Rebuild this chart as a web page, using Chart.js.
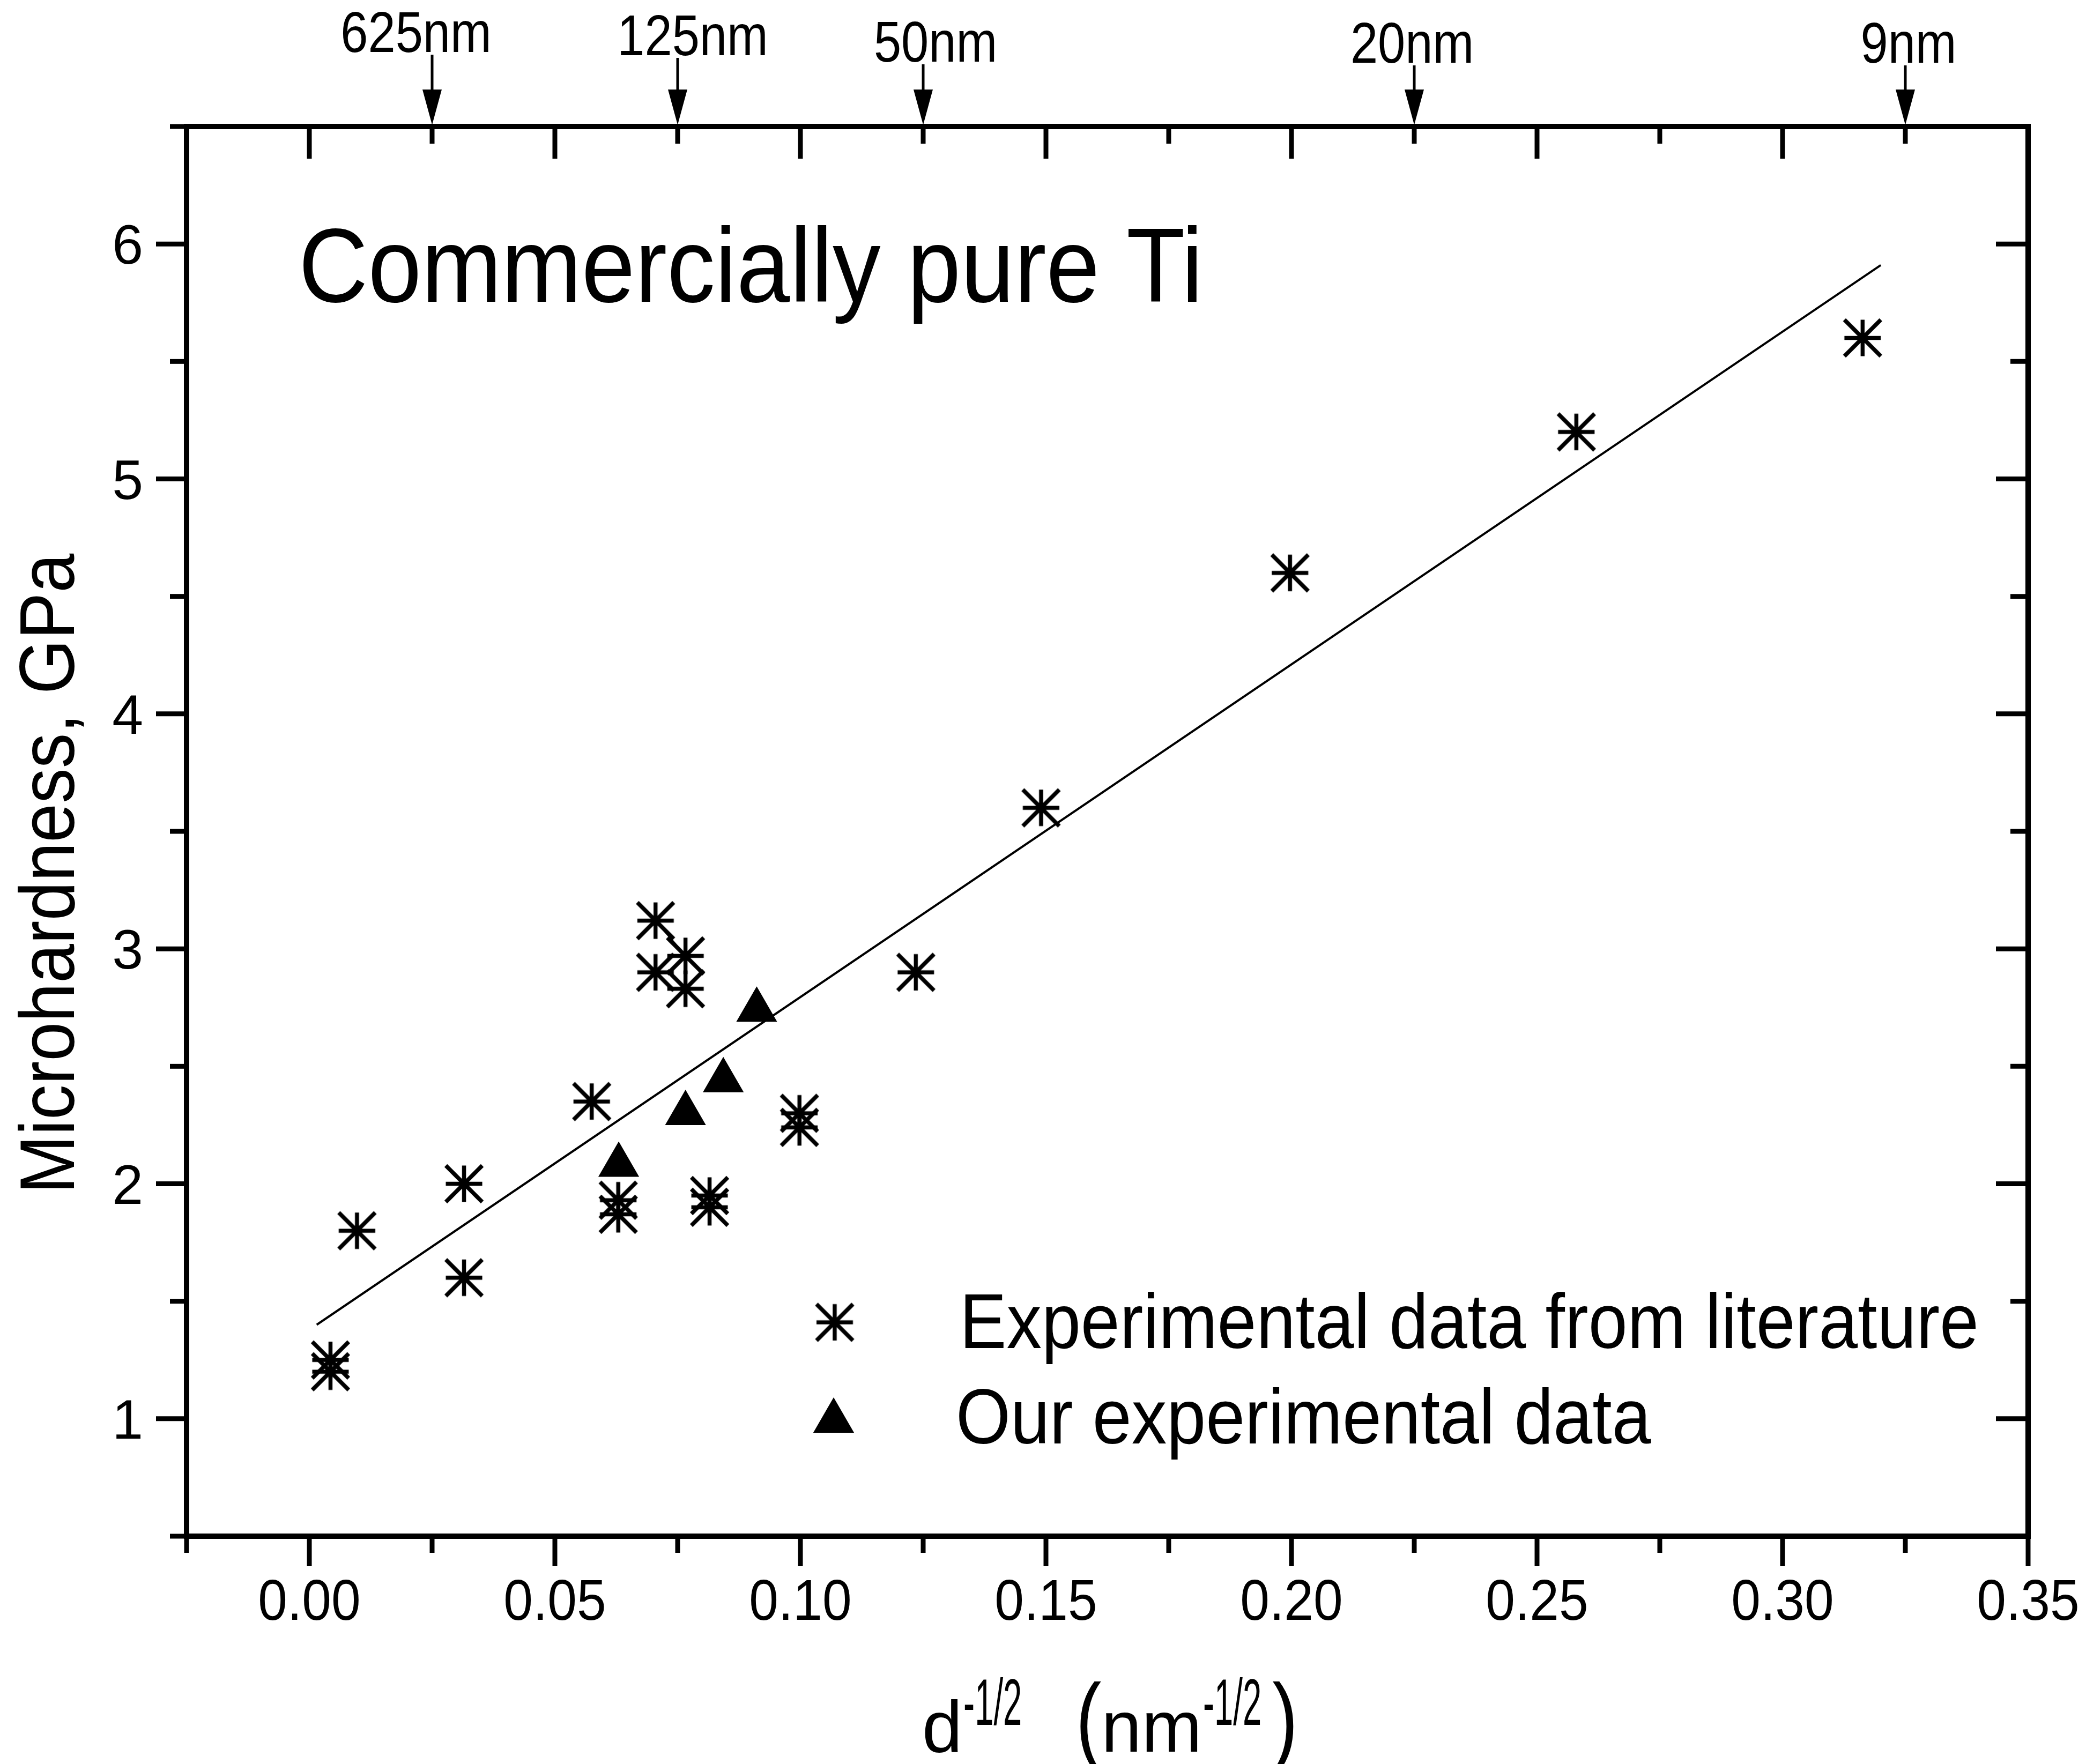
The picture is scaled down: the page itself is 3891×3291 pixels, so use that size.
<!DOCTYPE html>
<html>
<head>
<meta charset="utf-8">
<script src="https://cdn.jsdelivr.net/npm/chart.js"></script>
<style>
html,body{margin:0;padding:0;background:#fff;}
canvas{display:block;}
</style>
</head>
<body>
<canvas id="c" width="3891" height="3291" style="width:3891px;height:3291px"></canvas>
<script>
// ---------------- DATA ----------------
const chartTitle = 'Commercially pure Ti';
const yAxisTitle = 'Microhardness, GPa';
const seriesNames = ['Experimental data from literature', 'Our experimental data'];

// Experimental data from literature (asterisks)
const litX = [0.0043, 0.0043, 0.0097, 0.0315, 0.0315, 0.0575, 0.0629, 0.0629, 0.0705, 0.0705, 0.0766, 0.0766, 0.0815, 0.0815, 0.0998, 0.0998, 0.1235, 0.149, 0.1997, 0.258, 0.3163];
const litY = [1.25, 1.20, 1.80, 2.00, 1.60, 2.35, 1.93, 1.87, 3.12, 2.90, 2.97, 2.83, 1.95, 1.90, 2.30, 2.24, 2.90, 3.60, 4.60, 5.20, 5.60];
// thin connector drawn between two literature points in the original figure
const connectorIdx = [8, 10];

// Our experimental data (triangles)
const ourX = [0.0630, 0.0766, 0.0843, 0.0911];
const ourY = [2.08, 2.30, 2.44, 2.74];

// Linear fit line
const fitX = [0.0015, 0.32];
const fitY = [1.40, 5.91];

// Axis ticks
const xTickValues = [0.00, 0.05, 0.10, 0.15, 0.20, 0.25, 0.30, 0.35];
const xTickLabels = ['0.00', '0.05', '0.10', '0.15', '0.20', '0.25', '0.30', '0.35'];
const xMinorValues = [-0.025, 0.025, 0.075, 0.125, 0.175, 0.225, 0.275, 0.325];
const yTickValues = [1, 2, 3, 4, 5, 6];
const yTickLabels = ['1', '2', '3', '4', '5', '6'];
const yMinorValues = [0.5, 1.5, 2.5, 3.5, 4.5, 5.5, 6.5];

// Top grain-size arrows
const topArrowValues = [0.025, 0.075, 0.125, 0.225, 0.325];
const topArrowLabels = ['625nm', '125nm', '50nm', '20nm', '9nm'];

// ---------------- STYLE ----------------
const FONT = '"Liberation Sans", Arial, Helvetica, sans-serif';
const topLabelDx = [-30, 28, 23, -4, 6];
const topLabelBase = [97, 103, 115, 117, 117];

function makeAsterisk(half, lw) {
  const s = Math.ceil(2 * half + lw * 2 + 4);
  const cv = document.createElement('canvas');
  cv.width = s; cv.height = s;
  const g = cv.getContext('2d');
  const c = s / 2;
  g.strokeStyle = '#000';
  g.lineWidth = lw;
  g.lineCap = 'butt';
  g.beginPath();
  g.moveTo(c - half, c); g.lineTo(c + half, c);
  g.moveTo(c, c - half); g.lineTo(c, c + half);
  g.moveTo(c - half, c - half); g.lineTo(c + half, c + half);
  g.moveTo(c + half, c - half); g.lineTo(c - half, c + half);
  g.stroke();
  return cv;
}
const asterisk = makeAsterisk(34, 7.5);

function txt(ctx, s, x, y, size, sx, align, rot) {
  ctx.save();
  ctx.translate(x, y);
  if (rot) ctx.rotate(rot);
  ctx.scale(sx, 1);
  ctx.font = size + 'px ' + FONT;
  ctx.textAlign = align || 'left';
  ctx.textBaseline = 'alphabetic';
  ctx.fillStyle = '#000';
  ctx.fillText(s, 0, 0);
  ctx.restore();
}
function textW(ctx, s, size, sx) {
  ctx.save();
  ctx.font = size + 'px ' + FONT;
  const w = ctx.measureText(s).width * sx;
  ctx.restore();
  return w;
}

const framePlugin = {
  id: 'frame',
  afterDraw(chart) {
    const ctx = chart.ctx;
    const a = chart.chartArea;
    const xs = chart.scales.x, ys = chart.scales.y;
    ctx.save();
    ctx.strokeStyle = '#000';
    ctx.fillStyle = '#000';
    ctx.lineCap = 'butt';

    const line = (x0, y0, x1, y1) => { ctx.beginPath(); ctx.moveTo(x0, y0); ctx.lineTo(x1, y1); ctx.stroke(); };
    // ticks
    ctx.lineWidth = 9;
    xTickValues.forEach(v => {
      const p = xs.getPixelForValue(v);
      line(p, a.bottom, p, a.bottom + 56);
      line(p, a.top, p, a.top + 60);
    });
    xMinorValues.forEach(v => {
      const p = xs.getPixelForValue(v);
      line(p, a.bottom, p, a.bottom + 31);
      line(p, a.top, p, a.top + 32);
    });
    yTickValues.forEach(v => {
      const p = ys.getPixelForValue(v);
      line(a.left - 57, p, a.left, p);
      line(a.right - 60, p, a.right, p);
    });
    yMinorValues.forEach(v => {
      const p = ys.getPixelForValue(v);
      line(a.left - 31, p, a.left, p);
      line(a.right - 33, p, a.right, p);
    });
    // frame
    ctx.lineWidth = 10;
    ctx.lineJoin = 'miter';
    ctx.strokeRect(a.left, a.top, a.right - a.left, a.bottom - a.top);

    // tick labels
    xTickValues.forEach((v, i) => {
      txt(ctx, xTickLabels[i], xs.getPixelForValue(v), a.bottom + 156, 108, 0.91, 'center');
    });
    yTickValues.forEach((v, i) => {
      txt(ctx, yTickLabels[i], a.left - 81, ys.getPixelForValue(v) + 37, 104, 1.0, 'right');
    });

    // top arrows and labels
    topArrowValues.forEach((v, i) => {
      const p = xs.getPixelForValue(v);
      ctx.lineWidth = 5;
      line(p, topLabelBase[i] + 5, p, a.top - 60);
      ctx.beginPath();
      ctx.moveTo(p - 18, a.top - 69);
      ctx.lineTo(p + 18, a.top - 69);
      ctx.lineTo(p, a.top - 3);
      ctx.closePath();
      ctx.fill();
      txt(ctx, topArrowLabels[i], p + topLabelDx[i], topLabelBase[i], 107, 0.86, 'center');
    });

    // in-plot title
    txt(ctx, chartTitle, 557, 563, 197, 0.91, 'left');

    // legend
    ctx.drawImage(asterisk, 1557 - asterisk.width / 2, 2467 - asterisk.height / 2);
    txt(ctx, seriesNames[0], 1790, 2515, 144, 0.91, 'left');
    const tr = 44, tcx = 1555, tcy = 2651;
    ctx.beginPath();
    ctx.moveTo(tcx, tcy - tr);
    ctx.lineTo(tcx + tr * Math.sin(2 * Math.PI / 3), tcy + tr / 2);
    ctx.lineTo(tcx - tr * Math.sin(2 * Math.PI / 3), tcy + tr / 2);
    ctx.closePath();
    ctx.fill();
    txt(ctx, seriesNames[1], 1783, 2693, 144, 0.91, 'left');

    // y-axis title
    txt(ctx, yAxisTitle, 138, 1630, 144, 0.91, 'center', -Math.PI / 2);

    // x-axis title: d^-1/2 (nm^-1/2)
    const runs = [
      {s: 'd', size: 135, sx: 1.0, dy: 0, gap: 0},
      {s: '-1/2', size: 122, sx: 0.52, dy: -50, gap: 2},
      {s: '(', size: 180, sx: 0.8, dy: 0, gap: 100},
      {s: 'nm', size: 135, sx: 1.0, dy: 0, gap: 0},
      {s: '-1/2', size: 122, sx: 0.52, dy: -50, gap: 2},
      {s: ')', size: 180, sx: 0.8, dy: 0, gap: 20}
    ];
    let cx = 1720;
    const base = 3268;
    runs.forEach(r => {
      r.w = textW(ctx, r.s, r.size, r.sx);
      cx += r.gap;
      txt(ctx, r.s, cx, base + r.dy, r.size, r.sx, 'left');
      cx += r.w;
    });

    ctx.restore();
  }
};

const litData = litX.map((x, i) => ({x: x, y: litY[i]}));
const ourData = ourX.map((x, i) => ({x: x, y: ourY[i]}));
const fitData = fitX.map((x, i) => ({x: x, y: fitY[i]}));
const connectorData = connectorIdx.map(i => ({x: litX[i], y: litY[i]}));

new Chart(document.getElementById('c').getContext('2d'), {
  type: 'scatter',
  data: {
    datasets: [
      {
        label: seriesNames[0],
        data: litData,
        pointStyle: asterisk,
        pointRadius: 34,
        borderColor: '#000',
        backgroundColor: '#000'
      },
      {
        label: seriesNames[1],
        data: ourData,
        pointStyle: 'triangle',
        pointRadius: 44,
        borderWidth: 0,
        borderColor: '#000',
        backgroundColor: '#000'
      },
      {
        type: 'line',
        label: 'Linear fit',
        data: fitData,
        showLine: true,
        borderColor: '#000',
        borderWidth: 4,
        pointRadius: 0,
        fill: false,
        tension: 0
      },
      {
        type: 'line',
        label: 'connector',
        data: connectorData,
        showLine: true,
        borderColor: '#000',
        borderWidth: 3,
        pointRadius: 0,
        fill: false,
        tension: 0
      }
    ]
  },
  options: {
    responsive: false,
    animation: false,
    devicePixelRatio: 1,
    layout: {padding: {left: 348, right: 108, top: 236, bottom: 425}},
    plugins: {legend: {display: false}, tooltip: {enabled: false}, title: {display: false}},
    scales: {
      x: {type: 'linear', min: -0.025, max: 0.35, display: false},
      y: {type: 'linear', min: 0.5, max: 6.5, display: false}
    }
  },
  plugins: [framePlugin]
});
</script>
</body>
</html>
